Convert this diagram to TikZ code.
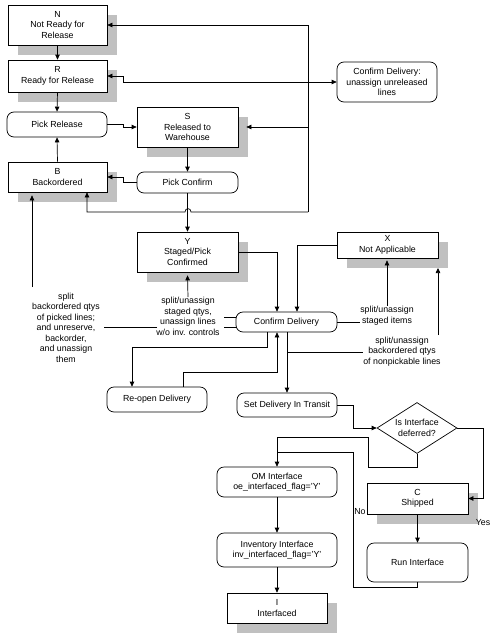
\documentclass[tikz,border=0pt]{standalone}
\usepackage{fontspec}
\setmainfont{Liberation Sans}
\usetikzlibrary{arrows.meta,shapes.geometric,shadows,calc}
\definecolor{shd}{RGB}{192,192,192}
\begin{document}
\begin{tikzpicture}[x=1pt,y=-1pt, line width=0.7pt,
 every node/.style={font=\fontsize{8.8}{10.5}\selectfont, align=center, inner sep=0pt},
 sq/.style={draw, fill=white, drop shadow={shadow xshift=10pt, shadow yshift=-10pt, fill=shd, opacity=1}},
 rnd/.style={draw, fill=white, rounded corners=7pt},
 arr/.style={-{Triangle[length=5pt,width=4.5pt]}}]
\useasboundingbox (0,0) rectangle (491,640);

% states and activities
\node[sq, minimum width=99pt, minimum height=40pt] (N) at (57.5,25) {N\\Not Ready for\\Release};
\node[sq, minimum width=99pt, minimum height=32pt] (R) at (57.5,76) {R\\Ready for Release};
\node[rnd, minimum width=100pt, minimum height=25pt] (PR) at (57,124.5) {Pick Release};
\node[sq, minimum width=101pt, minimum height=40pt] (S) at (187.5,127) {S\\Released to\\Warehouse};
\node[sq, minimum width=99pt, minimum height=30pt] (B) at (57.5,177) {B\\Backordered};
\node[rnd, minimum width=101pt, minimum height=21pt] (PC) at (187.5,182.5) {Pick Confirm};
\node[rnd, minimum width=100pt, minimum height=40pt] (CU) at (387,82) {Confirm Delivery:\\unassign unreleased\\lines};
\node[sq, minimum width=101pt, minimum height=40pt] (Y) at (187.5,252) {Y\\Staged/Pick\\Confirmed};
\node[sq, minimum width=101pt, minimum height=26pt] (X) at (387.5,245) {X\\Not Applicable};
\node[rnd, minimum width=101pt, minimum height=20pt] (CD) at (286.5,322) {Confirm Delivery};
\node[rnd, minimum width=100pt, minimum height=25pt] (RO) at (157,399.5) {Re-open Delivery};
\node[rnd, minimum width=100pt, minimum height=24pt] (SD) at (287,405) {Set Delivery In Transit};
\node[draw, diamond, fill=white, minimum width=80pt, minimum height=51pt] (D) at (417,428) {};
\node (Dt) at (417,428) {Is Interface\\deferred?};
\node[sq, minimum width=101pt, minimum height=31pt] (C) at (417.5,498.5) {C\\Shipped};
\node[rnd, minimum width=101pt, minimum height=39pt] (RI) at (417.5,562.5) {Run Interface};
\node[rnd, minimum width=120pt, minimum height=30pt] (OM) at (277,482) {OM Interface\\oe\_interfaced\_flag='Y'};
\node[rnd, minimum width=120pt, minimum height=34pt] (INV) at (277,550) {Inventory Interface\\inv\_interfaced\_flag='Y'};
\node[sq, minimum width=100pt, minimum height=30pt] (I) at (277,608) {I\\Interfaced};

% labels
\node (L1) at (66,327.5) {split\\backordered qtys\\of picked lines;\\and unreserve,\\backorder,\\and unassign\\them};
\node (L2) at (188,316.5) {split/unassign\\staged qtys,\\unassign lines\\w/o inv. controls};
\node (L3) at (387,315.5) {split/unassign\\staged items};
\node (L4) at (402,351.5) {split/unassign\\backordered qtys\\of nonpickable lines};
\node (No) at (360,512) {No};
\node (Yes) at (483,523) {Yes};

% upper flow
\draw[arr] (N.south) -- (R.north);
\draw[arr] (R.south) -- (PR.north);
\draw[arr] (B.north) -- (PR.south);
\draw[arr] (PR.east) -- (123,124.5) -- (123,127) -- (S.west);
\draw[arr] (S.south) -- (PC.north);
\draw[arr] (PC.west) -- (123,182.5) -- (123,177) -- (B.east);

% return bus
\coordinate (j0) at (308,212);
\coordinate (j1) at (308,25);
\coordinate (j2) at (308,82);
\coordinate (j3) at (308,127);
\draw (j0) -- (j1);
\draw[arr] (j1) -- (N.east);
\draw[arr] (j2) -- (CU.west);
\draw[arr] (j2) -- (123,82) -- (123,76) -- (R.east);
\draw[arr] (j3) -- ([xshift=8pt]S.east);
\draw[arr] (j0) -- (191,212) .. controls (191,207.5) and (185,207.5) .. (185,212) -- (87,212) -- ([xshift=29.5pt]B.south);

% Pick Confirm to Y, Y and X to Confirm Delivery
\draw[arr] (PC.south) -- (Y.north);
\draw[arr] (Y.east) -| ([xshift=-9.5pt]CD.north);
\draw[arr] (X.west) -| ([xshift=10.5pt]CD.north);

% Confirm Delivery side flows
\draw ([yshift=5pt]CD.west) -- ++(-12,0);
\draw ([yshift=-5pt]CD.west) -- ++(-12,0);
\coordinate (m1) at (157,327);
\coordinate (m2) at (104,327);
\draw (m1) -- (m2);
\draw[arr] (L2.north) -- ([yshift=-3pt]Y.south);
\coordinate (l1t) at (32,287);
\draw[arr] (l1t) -- ([yshift=-3pt]l1t |- B.south);
\draw (CD.east) -- (CD.east -| L3.west);
\draw[arr] (L3.north) -- ([yshift=-2pt]L3.north |- X.south);
\coordinate (b4) at (287,352);
\draw (b4) -- (b4 -| L4.west);
\coordinate (l4t) at (438,335);
\coordinate (l4e) at (438,268);
\draw[arr] (l4t) -- (l4e);

% Confirm Delivery / Re-open / Set in transit
\draw[arr] (CD.south -| SD.north) -- (SD.north);
\draw[arr] ([xshift=-19.5pt]CD.south) |- (132,347) -- ([xshift=-25pt]RO.north);
\draw[arr] ([xshift=26pt]RO.north) |- (277,372) -- ([xshift=-9.5pt]CD.south);

% interface decision
\draw[arr] (SD.east) -- (353,405) -- (353,428) -- (D.west);
\draw[arr] (D.east) -- (483,428) -- (483,498.5) -- (C.east);
\draw[arr] (D.south) -- (417,467) -- (368,467) -- (368,437) -- (277,437) -- (OM.north);
\draw (RI.south) -- (417.5,587) -- (353,587) -- (353,452) -- (277,452);
\draw[arr] (C.south) -- (RI.north);
\draw[arr] (OM.south) -- (INV.north);
\draw[arr] (INV.south) -- (I.north);
\end{tikzpicture}
\end{document}
